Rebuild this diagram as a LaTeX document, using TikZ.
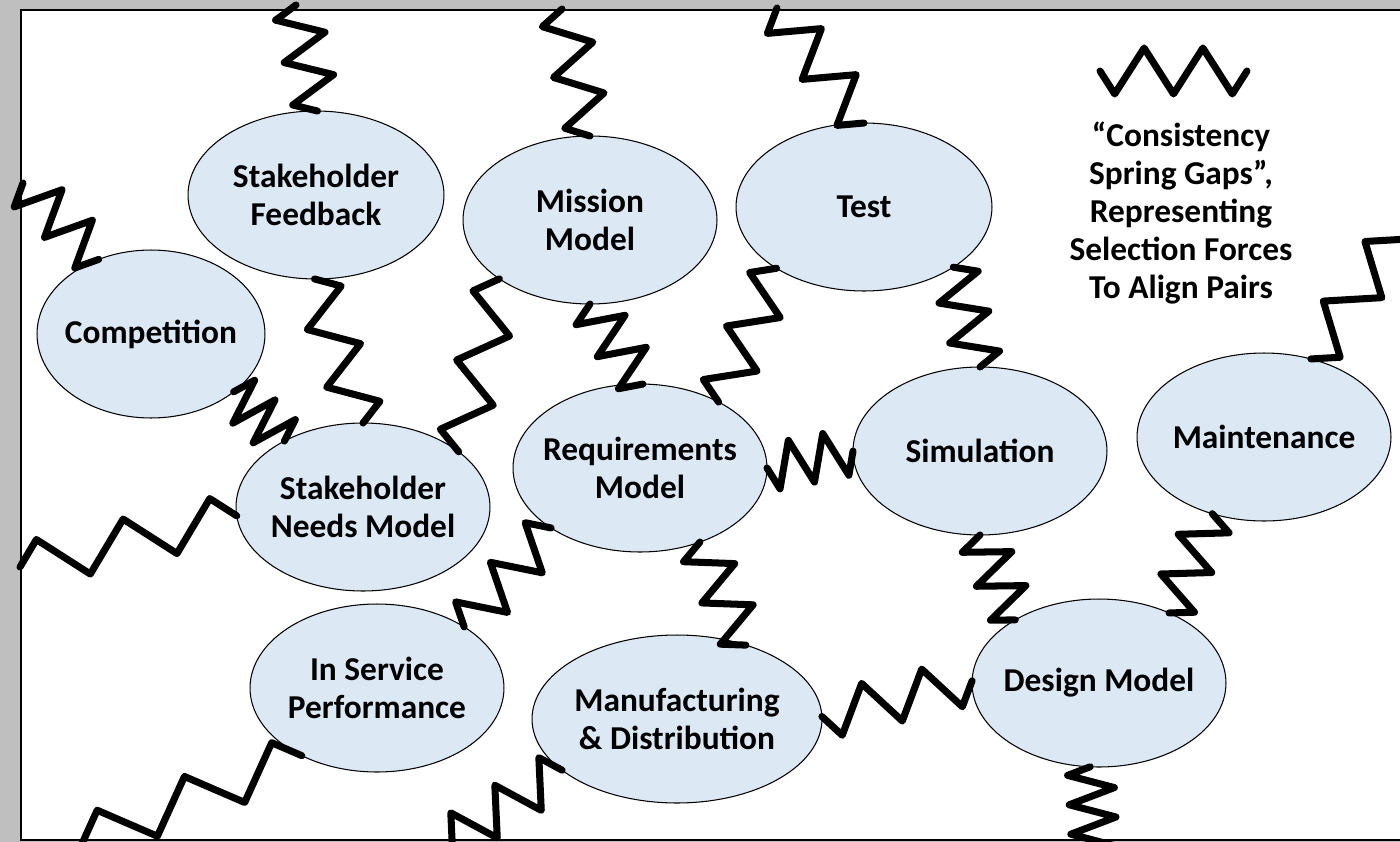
\documentclass[tikz,border=0pt]{standalone}
\usepackage{fontspec}
\setmainfont{Carlito}
\usetikzlibrary{shapes.geometric,calc}

\definecolor{modelblue}{RGB}{221,232,245}
\definecolor{framegray}{RGB}{191,191,191}

\newcommand{\springamp}{0.46cm}
% spring: from, to, number of kinks, side of first kink (1 = left, -1 = right)
\newcommand{\spring}[4]{%
  \draw[spring] (#1)
    \foreach \k [evaluate=\k as \zpos using (2*\k-1)/(2*#3),
                 evaluate=\k as \zang using #4*(180*isodd(\k)-90)] in {1,...,#3}
      { -- ($(#1)!\zpos!(#2)!\springamp!\zang:(#2)$) }
    -- (#2);%
}

\begin{document}
\begin{tikzpicture}[x=0.02cm, y=-0.02cm,
    model/.style={ellipse, draw=black, line width=0.6pt, fill=modelblue,
      minimum width=5.08cm, minimum height=3.36cm, inner xsep=-0.3cm, inner ysep=0pt,
      outer sep=0pt, align=center, font=\bfseries\fontsize{19}{22}\selectfont},
    spring/.style={line width=4pt, line cap=round, line join=round}]
    \useasboundingbox (0,0) rectangle (1400,842);
    \clip (0,0) rectangle (1400,842);
    \fill[framegray] (0,0) rectangle (1400,842);
    \draw[fill=white, line width=0.8pt] (21,10) rectangle (1410,840);

    % Models
    \node[model, minimum width=4.56cm] (comp) at (151,334) {Competition};
    \node[model, minimum width=5.12cm] (fb) at (316,195) {Stakeholder\\Feedback};
    \node[model] (mis) at (590,220) {Mission\\Model};
    \node[model, minimum width=5.12cm] (test) at (864,207) {Test};
    \node[model] (snm) at (363,507) {Stakeholder\\Needs Model};
    \node[model] (req) at (640,468) {Requirements\\Model};
    \node[model] (sim) at (980,451) {Simulation};
    \node[model] (mnt) at (1264,437) {Maintenance};
    \node[model] (isp) at (377,688) {In Service\\Performance};
    \node[model, minimum width=5.8cm] (mfg) at (677,719) {Manufacturing\\\& Distribution};
    \node[model] (dsg) at (1099,683) {Design Model};

    % Loose ends
    \coordinate (compEnd) at (23,183);
    \coordinate (fbEnd) at (296,5);
    \coordinate (misEnd) at (562,9);
    \coordinate (testEnd) at (777,8);
    \coordinate (mntEnd) at (1415,210);
    \coordinate (snmEnd) at (20,567);
    \coordinate (ispEnd) at (40,857);
    \coordinate (mfgEnd) at (430,853);
    \coordinate (dsgEnd) at (1095,855);

    % Springs
    \spring{compEnd}{comp.125}{5}{-1}
    \spring{fb.89}{fbEnd}{5}{1}
    \spring{mis.90}{misEnd}{5}{1}
    \spring{test.90}{testEnd}{5}{1}
    \spring{mnt.59}{mntEnd}{5}{-1}
    \spring{comp.-35}{snm.140}{5}{1}
    \spring{fb.-91}{snm.90}{5}{1}
    \spring{mis.-147}{snm.30}{5}{-1}
    \spring{mis.-90}{req.88}{5}{-1}
    \spring{test.-145}{req.40}{5}{-1}
    \spring{test.-34}{sim.90}{5}{1}
    \spring{req.0}{sim.180}{5}{-1}
    \spring{sim.-90}{dsg.143}{5}{-1}
    \spring{mnt.-124}{dsg.45}{5}{1}
    \spring{snmEnd}{snm.-176}{5}{1}
    \spring{isp.35}{req.-146}{5}{1}
    \spring{req.-51}{mfg.47}{5}{-1}
    \spring{mfg.1}{dsg.179}{5}{-1}
    \spring{isp.-138}{ispEnd}{6}{-1}
    \spring{mfg.-156}{mfgEnd}{6}{-1}
    \spring{dsg.-96}{dsgEnd}{6}{-1}

    % Legend
    \coordinate (lgA) at (1100,71);
    \coordinate (lgB) at (1247,71);
    \spring{lgA}{lgB}{5}{-1}
    \node[align=center, font=\bfseries\fontsize{19}{21.5}\selectfont] (legend) at (1181,213)
      {“Consistency\\Spring Gaps”,\\Representing\\Selection Forces\\To Align Pairs};
\end{tikzpicture}
\end{document}
